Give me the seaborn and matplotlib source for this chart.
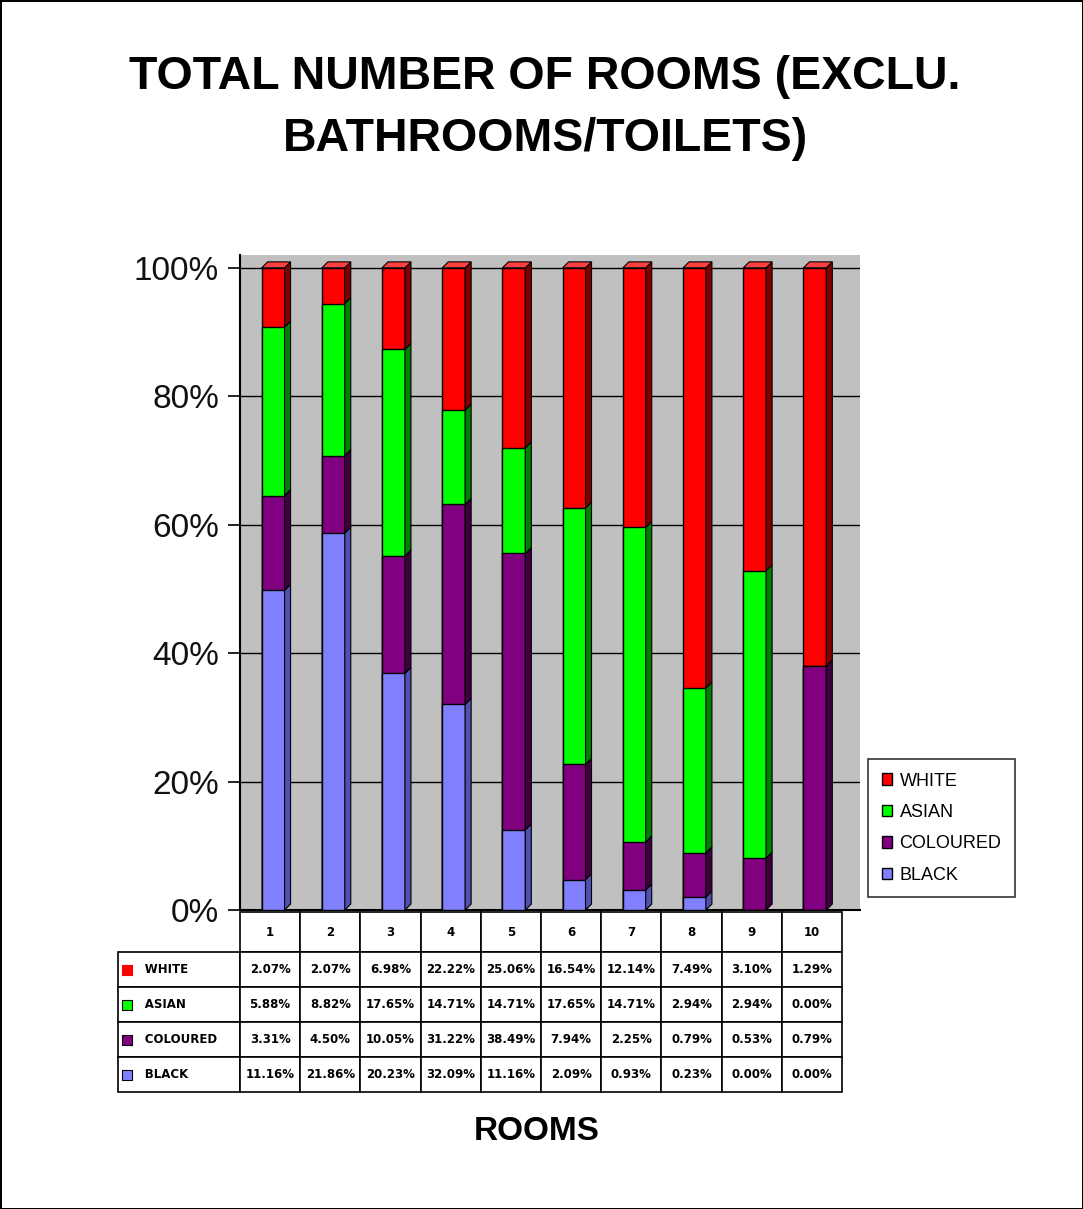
import numpy as np
import pandas as pd
import matplotlib
matplotlib.use("Agg")
import matplotlib.pyplot as plt
from matplotlib.patches import Patch
import seaborn as sns

rooms = ["1", "2", "3", "4", "5", "6", "7", "8", "9", "10"]
groups = ["WHITE", "ASIAN", "COLOURED", "BLACK"]
white = [2.07, 2.07, 6.98, 22.22, 25.06, 16.54, 12.14, 7.49, 3.10, 1.29]
asian = [5.88, 8.82, 17.65, 14.71, 14.71, 17.65, 14.71, 2.94, 2.94, 0.00]
coloured = [3.31, 4.50, 10.05, 31.22, 38.49, 7.94, 2.25, 0.79, 0.53, 0.79]
black = [11.16, 21.86, 20.23, 32.09, 11.16, 2.09, 0.93, 0.23, 0.00, 0.00]
yticks = [0, 20, 40, 60, 80, 100]
title = "TOTAL NUMBER OF ROOMS (EXCLU.\nBATHROOMS/TOILETS)"
xlabel = "ROOMS"

colors = {"WHITE": "#ff0000", "ASIAN": "#00ff00", "COLOURED": "#800080", "BLACK": "#8080ff"}
side_colors = {"WHITE": "#800000", "ASIAN": "#008000", "COLOURED": "#400040", "BLACK": "#5050b0"}

series = {"WHITE": white, "ASIAN": asian, "COLOURED": coloured, "BLACK": black}
vals = np.array([series[g] for g in groups])          # rows: groups
pct = vals / vals.sum(axis=0) * 100                   # 100% stacked
# stacking order bottom->top: BLACK, COLOURED, ASIAN, WHITE
stack_order = ["BLACK", "COLOURED", "ASIAN", "WHITE"]
stack = np.array([pct[groups.index(g)] for g in stack_order])
tops = np.cumsum(stack, axis=0)
bottoms = tops - stack

W, H = 1083, 1209
sns.set_style("white")
plt.rcParams["font.family"] = ["Liberation Sans", "DejaVu Sans"]
plt.rcParams["text.color"] = "black"
plt.rcParams["axes.labelcolor"] = "black"
plt.rcParams["xtick.color"] = "black"
plt.rcParams["ytick.color"] = "black"
fig = plt.figure(figsize=(W / 100, H / 100), dpi=100)

ax = fig.add_axes([240 / W, 1 - 910 / H, 620 / W, (910 - 255) / H])
ax.set_facecolor("#c0c0c0")

bw = 0.38
# draw cumulative bars from the top group down (overplotting)
for k in range(len(stack_order) - 1, -1, -1):
    g = stack_order[k]
    df = pd.DataFrame({"room": rooms, "val": tops[k]})
    sns.barplot(data=df, x="room", y="val", order=rooms, color=colors[g],
                width=bw, edgecolor="black", linewidth=1, saturation=1,
                ax=ax, zorder=3)

# 3D side faces
dx, dy = 0.1, 0.93
for i in range(len(rooms)):
    x0 = i + bw / 2
    for k, g in enumerate(stack_order):
        b, t = bottoms[k, i], tops[k, i]
        if t - b <= 0:
            continue
        ax.fill([x0, x0 + dx, x0 + dx, x0], [b, b + dy, t + dy, t],
                color=side_colors[g], ec="black", lw=0.8, zorder=4)
    # top face
    ax.fill([i - bw / 2, i - bw / 2 + dx, x0 + dx, x0],
            [tops[-1, i], tops[-1, i] + dy, tops[-1, i] + dy, tops[-1, i]],
            color="#ff4040", ec="black", lw=0.8, zorder=4)

ax.set_xlim(-0.55, 9.75)
ax.set_ylim(0, 102)
ax.set_yticks(yticks)
ax.set_yticklabels([f"{v}%" for v in yticks], fontsize=24, color="#111111")
ax.set_xticks([])
ax.set_xlabel("")
ax.set_ylabel("")
ax.yaxis.grid(True, color="black", lw=1)
ax.set_axisbelow(True)
for s in ["top", "right"]:
    ax.spines[s].set_visible(False)
ax.spines["left"].set_color("black")
ax.spines["left"].set_linewidth(1.5)
ax.spines["bottom"].set_color("black")
ax.spines["bottom"].set_linewidth(1.5)
ax.tick_params(axis="y", direction="out", length=9, width=1.2, color="black", pad=6, left=True)

# title and x label
fig.text(545 / W, 1 - 108 / H, title, ha="center", va="center",
         fontsize=33.5, fontweight="bold", linespacing=1.55, color="black")
fig.text(537 / W, 1 - 1132 / H, xlabel, ha="center", va="center",
         fontsize=24, fontweight="bold", color="black")

# legend
handles = [Patch(facecolor=colors[g], edgecolor="black", label=g) for g in groups]
leg = fig.legend(handles=handles, loc="upper left",
                 bbox_to_anchor=(868 / W, 1 - 759 / H), fontsize=13,
                 frameon=True, fancybox=False, handlelength=0.6, handleheight=0.6,
                 handletextpad=0.4, labelspacing=0.8, borderpad=0.75,
                 borderaxespad=0)
leg.get_frame().set_edgecolor("black")
leg.get_frame().set_linewidth(1.2)
for t in leg.get_texts():
    t.set_color("black")

# data table
tax = fig.add_axes([118 / W, 1 - 1092 / H, (842 - 118) / W, (1092 - 912) / H])
tax.set_axis_off()
tax.set_xlim(0, 1)
tax.set_ylim(0, 1)
cell_text = [[""] + rooms]
for g in groups:
    cell_text.append(["      " + g] + [f"{v:.2f}%" for v in series[g]])
lab_w = 122 / 724
col_w = (1 - lab_w) / len(rooms)
tbl = tax.table(cellText=cell_text, colWidths=[lab_w] + [col_w] * len(rooms),
                cellLoc="center", bbox=[0, 0, 1, 1])
tbl.auto_set_font_size(False)
for (r, c), cell in tbl.get_celld().items():
    cell.set_height(40 if r == 0 else 35)
    cell.set_linewidth(1.2)
    cell.set_edgecolor("black")
    txt = cell.get_text()
    txt.set_fontsize(8.5)
    txt.set_fontweight("bold")
    txt.set_fontfamily("DejaVu Sans")
    txt.set_color("black")
    if c == 0:
        txt.set_ha("left")
        cell.PAD = 0.02
    if r == 0 and c == 0:
        cell.visible_edges = ""
# colored squares in row labels
row_centers = [(1092 - y) / 180 for y in (969.5, 1004.5, 1039.5, 1074.5)]
for g, yc in zip(groups, row_centers):
    tax.scatter([9 / 724], [yc], marker="s", s=45, color=colors[g],
                edgecolor="black" if g != "WHITE" else colors[g], linewidth=0.8,
                zorder=5, clip_on=False)

fig.patch.set_edgecolor("black")
fig.patch.set_linewidth(2)
fig.savefig("out.png", dpi=100, facecolor="white", edgecolor="black")
